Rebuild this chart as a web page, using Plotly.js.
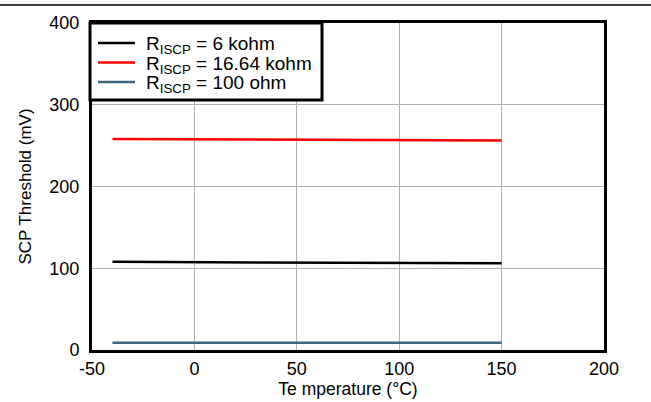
<!DOCTYPE html>
<html><head><meta charset="utf-8">
<script src="https://cdn.plot.ly/plotly-3.0.1.min.js"></script>
<style>body{margin:0;background:#fff}#c{width:651px;height:402px}</style>
</head><body><div id="c"></div>
<script>
const temps = [-40, -20, 0, 25, 50, 85, 105, 125, 150];
const r6k = [107.8, 107.6, 107.4, 107.1, 106.9, 106.6, 106.4, 106.2, 106.0];
const r16k = [258.2, 258.0, 257.8, 257.6, 257.4, 257.1, 256.9, 256.6, 256.3];
const r100 = [9.0, 9.1, 9.2, 9.3, 9.2, 9.1, 9.0, 8.9, 8.8];
const names = ['R<sub>ISCP</sub> = 6 kohm', 'R<sub>ISCP</sub> = 16.64 kohm', 'R<sub>ISCP</sub> = 100 ohm'];
const xTickVals = [-50, 0, 50, 100, 150, 200];
const xTickText = ['-50', '0', '50', '100', '150', '200'];
const yTickVals = [0, 100, 200, 300, 400];
const yTickText = ['0', '100', '200', '300', '400'];
const colors = ['#000000', '#ff0000', '#3a6680'];
const series = [r6k, r16k, r100];
const data = series.map((s, i) => ({x: temps, y: s, name: names[i], mode: 'lines', type: 'scatter', line: {color: colors[i], width: 2.5}, showlegend: false}));
const fam = 'Liberation Sans, Arial, sans-serif';
// plot area in pixels: left 92, top 23, width 512, height 327
const px = x => (x - 92) / 512;
const py = y => (350 - y) / 327;
const shapes = [
  {type: 'line', xref: 'paper', yref: 'paper', x0: px(0), x1: px(651), y0: py(5), y1: py(5), line: {color: '#000', width: 1.5}},
  {type: 'rect', xref: 'paper', yref: 'paper', x0: px(90), x1: px(322), y0: py(23), y1: py(100), fillcolor: '#fff', line: {color: '#000', width: 3}, layer: 'above'}
];
const annotations = [];
const rowY = [43, 62.5, 82];
names.forEach((n, i) => {
  shapes.push({type: 'line', xref: 'paper', yref: 'paper', x0: px(98), x1: px(135), y0: py(rowY[i]), y1: py(rowY[i]), line: {color: colors[i], width: 2.5}, layer: 'above'});
  annotations.push({xref: 'paper', yref: 'paper', x: px(144), y: py(rowY[i] + 2), xanchor: 'left', yanchor: 'middle', text: n, showarrow: false, font: {family: fam, size: 19, color: '#000'}});
});
const layout = {
  width: 651, height: 402,
  margin: {l: 92, r: 47, t: 23, b: 52},
  paper_bgcolor: '#fff', plot_bgcolor: '#fff',
  font: {family: fam, size: 18, color: '#000'},
  showlegend: false,
  xaxis: {range: [-50, 200], tickmode: 'array', tickvals: xTickVals, ticktext: xTickText, showgrid: true, gridcolor: '#b0b0b0', gridwidth: 1, zeroline: false, showline: true, linecolor: '#000', linewidth: 3, mirror: true, ticks: '', title: {text: 'Te mperature (°C)', font: {size: 17.5}, standoff: 0}, tickfont: {size: 18}},
  yaxis: {range: [0, 400], tickmode: 'array', tickvals: yTickVals, ticktext: yTickText, showgrid: true, gridcolor: '#b0b0b0', gridwidth: 1, zeroline: false, showline: true, linecolor: '#000', linewidth: 3, mirror: true, ticks: '', ticklabelstandoff: 6, title: {text: 'SCP Threshold (mV)', font: {size: 17}, standoff: 14}, tickfont: {size: 18}},
  shapes: shapes,
  annotations: annotations
};
Plotly.newPlot('c', data, layout, {displayModeBar: false, staticPlot: true});
</script></body></html>
